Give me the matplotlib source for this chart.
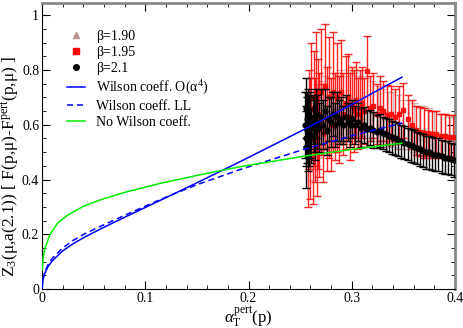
import matplotlib
matplotlib.use("Agg")
import matplotlib.pyplot as plt
from matplotlib.ticker import MultipleLocator, FuncFormatter
from matplotlib.lines import Line2D

plt.rcParams['font.family'] = ['Liberation Serif', 'DejaVu Serif']
plt.rcParams['mathtext.fontset'] = 'custom'
plt.rcParams['mathtext.rm'] = 'Liberation Serif'
plt.rcParams['mathtext.it'] = 'Liberation Serif:italic'

# ---- curves ----
ws_x = [0.0, 0.001, 0.003, 0.006, 0.01, 0.02, 0.03, 0.04, 0.056, 0.07, 0.09, 0.1146, 0.15, 0.1923, 0.2534, 0.30, 0.3486]
ws_y = [0.0, 0.035, 0.06, 0.083, 0.103, 0.139, 0.165, 0.187, 0.218, 0.244, 0.28, 0.324, 0.388, 0.466, 0.582, 0.674, 0.774]

wl_x = [0.0, 0.001, 0.003, 0.006, 0.01, 0.02, 0.03, 0.04, 0.056, 0.07, 0.09, 0.1146, 0.15, 0.1923, 0.2534, 0.30, 0.3486]
wl_y = [0.0, 0.038, 0.065, 0.09, 0.112, 0.15, 0.177, 0.199, 0.228, 0.252, 0.286, 0.327, 0.381, 0.437, 0.51, 0.56, 0.606]

nw_x = [0.0003, 0.001, 0.003, 0.0078, 0.015, 0.024, 0.04, 0.056, 0.08, 0.1146, 0.15, 0.1923, 0.2534, 0.30, 0.3486]
nw_y = [0.07, 0.11, 0.15, 0.20, 0.24, 0.268, 0.302, 0.325, 0.353, 0.386, 0.415, 0.447, 0.485, 0.51, 0.533]

# ---- beta = 2.1 ----
b21_x = [0.2550,0.2555,0.2560,0.2560,0.2565,0.2570,0.2575,0.2580,0.2585,0.2590,
         0.2595,0.2600,0.2610,0.2620,0.2630,0.2640,0.2650,0.2660,0.2680,0.2700,
         0.272,0.274,0.276,0.278,0.280,0.282,0.284,0.286,0.288,0.290,
         0.292,0.294,0.296,0.298,0.300,0.303,0.306,0.309,0.312,0.315,
         0.318,0.321,0.324,0.327,0.330,0.333,0.336,0.339,0.342,0.345,
         0.348,0.351,0.354,0.357,0.360,0.363,0.366,0.369,0.372,0.375,
         0.378,0.381,0.384,0.387,0.390,0.393,0.396,0.399]
b21_y = [0.60,0.55,0.66,0.52,0.62,0.58,0.64,0.54,0.61,0.57,
         0.63,0.59,0.56,0.62,0.60,0.58,0.64,0.61,0.59,0.63,
         0.60,0.65,0.58,0.62,0.61,0.64,0.60,0.63,0.61,0.62,
         0.60,0.63,0.61,0.60,0.62,0.60,0.61,0.59,0.60,0.585,
         0.59,0.58,0.575,0.58,0.57,0.565,0.56,0.555,0.55,0.545,
         0.54,0.535,0.53,0.525,0.52,0.515,0.51,0.505,0.50,0.50,
         0.495,0.49,0.49,0.485,0.48,0.48,0.475,0.47]
b21_e = [0.12,0.10,0.11,0.15,0.10,0.12,0.09,0.11,0.10,0.12,
         0.09,0.11,0.10,0.09,0.10,0.11,0.09,0.10,0.09,0.10,
         0.09,0.08,0.09,0.08,0.09,0.08,0.08,0.09,0.08,0.08,
         0.07,0.08,0.07,0.08,0.07,0.07,0.07,0.07,0.065,0.065,
         0.065,0.065,0.06,0.06,0.06,0.06,0.06,0.06,0.06,0.06,
         0.06,0.06,0.06,0.06,0.06,0.06,0.06,0.06,0.06,0.06,
         0.06,0.06,0.06,0.06,0.06,0.06,0.06,0.06]

# ---- beta = 1.95 ----
b195_x = [0.258,0.259,0.260,0.261,0.262,0.263,0.264,0.265,0.266,0.267,
          0.268,0.270,0.272,0.274,0.276,0.278,0.280,0.282,0.284,0.286,
          0.288,0.290,0.292,0.294,0.296,0.298,0.300,0.302,0.304,0.306,
          0.308,0.310,0.312,0.315,0.318,0.321,0.324,0.327,0.330,0.334,
          0.338,0.342,0.346,0.350,0.354,0.358,0.362,0.366,0.370,0.374,
          0.378,0.382,0.386,0.390,0.394,0.398]
b195_y = [0.50,0.62,0.55,0.70,0.48,0.66,0.58,0.72,0.52,0.64,
          0.60,0.72,0.57,0.74,0.62,0.70,0.60,0.72,0.63,0.70,
          0.62,0.72,0.64,0.68,0.70,0.63,0.67,0.65,0.69,0.64,
          0.66,0.68,0.65,0.795,0.66,0.67,0.64,0.66,0.65,0.635,
          0.64,0.63,0.64,0.653,0.62,0.60,0.58,0.575,0.57,0.57,
          0.565,0.565,0.56,0.56,0.555,0.555]
b195_e = [0.20,0.18,0.22,0.20,0.17,0.21,0.19,0.22,0.18,0.20,
          0.19,0.23,0.18,0.23,0.19,0.22,0.17,0.22,0.16,0.20,
          0.16,0.19,0.15,0.17,0.16,0.16,0.14,0.15,0.14,0.13,
          0.14,0.13,0.12,0.13,0.12,0.12,0.11,0.12,0.11,0.11,
          0.10,0.10,0.10,0.10,0.09,0.09,0.09,0.09,0.09,0.085,
          0.085,0.085,0.08,0.08,0.08,0.08]

# ---- beta = 1.90 ----
b190_x = [0.262,0.266,0.270,0.274,0.278,0.282,0.286,0.290,0.294,0.298,
          0.302,0.306,0.310,0.315,0.320,0.325,0.330,0.335,0.340,0.345,
          0.350,0.355,0.360,0.365,0.370,0.375,0.380,0.385,0.390,0.395,0.400]
b190_y = [0.55,0.60,0.62,0.64,0.63,0.66,0.65,0.67,0.66,0.68,
          0.67,0.66,0.67,0.66,0.65,0.64,0.63,0.62,0.62,0.61,
          0.60,0.60,0.59,0.58,0.58,0.57,0.57,0.56,0.56,0.55,0.55]
b190_e = [0.15,0.15,0.14,0.14,0.14,0.13,0.13,0.13,0.12,0.12,
          0.12,0.12,0.11,0.11,0.11,0.10,0.10,0.10,0.10,0.10,
          0.09,0.09,0.09,0.09,0.09,0.09,0.08,0.08,0.08,0.08,0.08]

fig = plt.figure(figsize=(4.63, 3.28), dpi=100)
ax = fig.add_axes([42/463, 1-289/328, 413/463, 286/328])

ax.errorbar(b190_x, b190_y, yerr=b190_e, fmt='^', color='#bc8f8f', ms=3,
            capsize=3, elinewidth=1, alpha=0.6, zorder=2)
ax.errorbar(b195_x, b195_y, yerr=b195_e, fmt='s', color='#ff0000', ms=3.5,
            capsize=3, elinewidth=1, alpha=0.85, zorder=3)
ax.errorbar(b21_x, b21_y, yerr=b21_e, fmt='o', color='#000000', ms=3.5,
            capsize=3, elinewidth=1, zorder=4)

ax.plot(ws_x, ws_y, '-', color='#0000ff', lw=1.1, zorder=5)
ax.plot(wl_x, wl_y, '--', color='#0000ff', lw=1.1, dashes=(4, 2.5), zorder=5)
ax.plot(nw_x, nw_y, '-', color='#00ee00', lw=1.1, zorder=5)

ax.set_xlim(0, 0.4)
ax.set_ylim(0, 1.045)
ax.xaxis.set_major_locator(MultipleLocator(0.1))
ax.xaxis.set_minor_locator(MultipleLocator(0.02))
ax.yaxis.set_major_locator(MultipleLocator(0.2))
ax.yaxis.set_minor_locator(MultipleLocator(0.05))
fmt = FuncFormatter(lambda v, p: '0' if abs(v) < 1e-9 else ('1' if abs(v-1) < 1e-9 else f'{v:.1f}'))
ax.xaxis.set_major_formatter(fmt)
ax.yaxis.set_major_formatter(fmt)
ax.tick_params(which='both', direction='in', top=True, right=True, labelsize=10, pad=2)
ax.tick_params(which='major', length=6)
ax.tick_params(which='minor', length=3)
for s in ['top', 'right']:
    ax.spines[s].set_color('#888888')
    ax.spines[s].set_linewidth(2)

ax.set_xlabel('$\\alpha_\\mathrm{T}^{\\mathrm{pert}}$(p)', fontsize=12, labelpad=0)
ax.set_ylabel('Z$_3$(μ,a(2.1)) [ F(p,μ)-F$^{\\mathrm{pert}}$(p,μ) ]', fontsize=12.5)
ax.yaxis.set_label_coords(-0.052, 0.43)

handles = [
    Line2D([], [], ls='none', marker='^', color='#bc8f8f', ms=4),
    Line2D([], [], ls='none', marker='s', color='#ff0000', ms=4),
    Line2D([], [], ls='none', marker='o', color='#000000', ms=4),
    Line2D([], [], ls='-', color='#0000ff', lw=1.1),
    Line2D([], [], ls='--', color='#0000ff', lw=1.1, dashes=(4, 2.5)),
    Line2D([], [], ls='-', color='#00ee00', lw=1.1),
]
labels = ['β=1.90', 'β=1.95', 'β=2.1', 'Wilson coeff. O(α$^4$)', 'Wilson coeff. LL', 'No Wilson coeff.']
ax.legend(handles, labels, loc='upper left', bbox_to_anchor=(0.06, 0.905),
          frameon=False, fontsize=10, handlelength=1.3, labelspacing=0.22,
          handletextpad=0.8, borderaxespad=0, borderpad=0)
fig.savefig('out.png', dpi=100)
